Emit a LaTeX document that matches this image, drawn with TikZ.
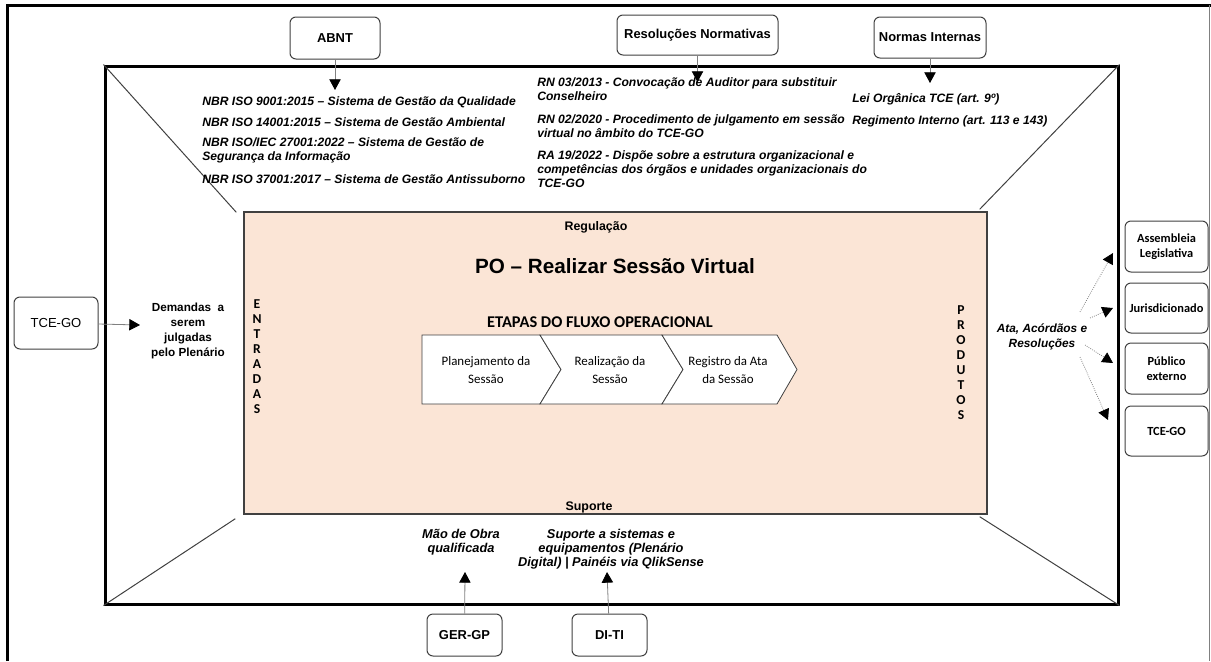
\documentclass[tikz,border=0pt]{standalone}
\usepackage{fontspec}
\setmainfont{Liberation Sans}
\newfontfamily\calibri{Carlito}
\usetikzlibrary{arrows.meta}
\definecolor{pele}{RGB}{251,229,214}
\definecolor{borda}{RGB}{64,64,64}
\begin{document}
\begin{tikzpicture}[x=0.75pt, y=-0.75pt,
    caixa/.style={draw=borda, line width=0.75pt, rounded corners=4.5pt, fill=white, inner sep=0pt, align=center},
    titulo/.style={font=\fontsize{9.7}{11}\selectfont\bfseries},
    seta/.style={draw=gray, line width=0.6pt, -{Triangle[length=8pt,width=8.5pt,color=black]}},
    saida/.style={draw=gray, line width=0.6pt, densely dotted, -{Triangle[length=8pt,width=8.5pt,color=black]}},
    diag/.style={draw=borda, line width=0.75pt},
    norma/.style={anchor=base west, inner sep=0pt, align=left, font=\fontsize{9.1}{10.5}\selectfont\bfseries\itshape},
    etapa/.style={draw=borda, line width=0.6pt, fill=white},
    letras/.style={inner sep=0pt, align=center, font=\calibri\fontsize{10.2}{11.25}\selectfont\bfseries}]
\useasboundingbox (0,0) rectangle (1211,661);
% moldura externa
\draw[line width=2.25pt] (7,661) -- (7,5) -- (1211,5);
\draw[gray, line width=0.75pt] (1209.5,5) -- (1209.5,661);
% moldura e processo
\node[draw, line width=2.25pt, inner sep=0pt, minimum width=759.75pt, minimum height=403.5pt] (moldura) at (611.5,335) {};
\node[draw=borda, line width=1.1pt, fill=pele, inner sep=0pt, minimum width=557.25pt, minimum height=226.5pt] (po) at (615.5,363) {};
\draw[diag] (moldura.north west) -- ([xshift=-5.25pt,yshift=-0.75pt]po.north west);
\draw[diag] (moldura.north east) -- ([xshift=-6pt,yshift=1.5pt]po.north east);
\draw[diag] (moldura.south west) -- ([xshift=-6pt,yshift=-3pt]po.south west);
\draw[diag] (moldura.south east) -- ([xshift=-6pt,yshift=-1.5pt]po.south east);

\node[font=\fontsize{9.3}{11}\selectfont\bfseries] (regulacao) at (596,227) {Regulação};
\node[font=\fontsize{15.5}{17}\selectfont\bfseries] (titulopo) at (615,266) {PO – Realizar Sessão Virtual};
\node[font=\calibri\fontsize{12.3}{14}\selectfont\bfseries] (etapas) at (600,322) {ETAPAS DO FLUXO OPERACIONAL};
\node[font=\fontsize{9.3}{11}\selectfont\bfseries] (suporte) at (589,507) {Suporte};

% etapas do fluxo
\draw[etapa] (422,335) -- (540,335) -- (561,369.5) -- (540,404) -- (422,404) -- cycle;
\draw[etapa] (540,335) -- (662,335) -- (683,369.5) -- (662,404) -- (540,404) -- (561,369.5) -- cycle;
\draw[etapa] (662,335) -- (777,335) -- (797,369.5) -- (777,404) -- (662,404) -- (683,369.5) -- cycle;
\node[align=center, font=\calibri\fontsize{9.7}{13.5}\selectfont] (planejamento) at (486,370) {Planejamento da\\Sessão};
\node[align=center, font=\calibri\fontsize{9.7}{13.5}\selectfont] (realizacao) at (610,370) {Realização da\\Sessão};
\node[align=center, font=\calibri\fontsize{9.7}{13.5}\selectfont] (registro) at (728,370) {Registro da Ata\\da Sessão};

\node[letras] (entradas) at (257,357) {E\\N\\T\\R\\A\\D\\A\\S};
\node[letras] (produtos) at (961,363) {P\\R\\O\\D\\U\\T\\O\\S};

% controles
\node[caixa, titulo, minimum width=67.5pt, minimum height=31.5pt] (abnt) at (335,38) {ABNT};
\node[caixa, titulo, minimum width=120.75pt, minimum height=30pt] (resolucoes) at (697.5,35) {Resoluções Normativas};
\node[caixa, titulo, minimum width=84pt, minimum height=30.75pt] (normas) at (930,37.5) {Normas Internas};
\coordinate (abntfim) at (335,90);
\coordinate (resolucoesfim) at (697.5,82);
\coordinate (normasfim) at (930,83);
\draw[seta] (abnt) -- (abntfim);
\draw[seta] (resolucoes) -- (resolucoesfim);
\draw[seta] (normas) -- (normasfim);

\node[norma] (nbr1) at (202,105) {NBR ISO 9001:2015 – Sistema de Gestão da Qualidade};
\node[norma] (nbr2) at (202,126) {NBR ISO 14001:2015 – Sistema de Gestão Ambiental};
\node[norma] (nbr3) at (202,160) {NBR ISO/IEC 27001:2022 – Sistema de Gestão de\\Segurança da Informação};
\node[norma] (nbr4) at (202,183) {NBR ISO 37001:2017 – Sistema de Gestão Antissuborno};
\node[norma] (rn1) at (537,100) {RN 03/2013 - Convocação de Auditor para substituir\\Conselheiro};
\node[norma] (rn2) at (537,137) {RN 02/2020 - Procedimento de julgamento em sessão\\virtual no âmbito do TCE-GO};
\node[norma] (ra1) at (537,187) {RA 19/2022 - Dispõe sobre a estrutura organizacional e\\competências dos órgãos e unidades organizacionais do\\TCE-GO};
\node[norma] (lei) at (852,102) {Lei Orgânica TCE (art. 9º)};
\node[norma] (regimento) at (852,124) {Regimento Interno (art. 113 e 143)};

% entradas
\node[caixa, font=\fontsize{9.8}{11}\selectfont, minimum width=63pt, minimum height=39pt] (tceorigem) at (56,323) {TCE-GO};
\coordinate (tceorigemfim) at (140,325);
\draw[seta] (tceorigem) -- (tceorigemfim);
\node[align=center, font=\fontsize{8.8}{11.25}\selectfont\bfseries] (demandas) at (188,331) {Demandas~~a\\serem\\julgadas\\pelo Plenário};

% mecanismos
\node[caixa, titulo, minimum width=56.25pt, minimum height=31.5pt] (gergp) at (464.5,635) {GER-GP};
\node[caixa, titulo, minimum width=56.25pt, minimum height=31.5pt] (diti) at (609.5,635) {DI-TI};
\coordinate (gergpfim) at (465,572);
\coordinate (ditifim) at (607,572);
\draw[seta] (gergp) -- (gergpfim);
\draw[seta] (diti) -- (ditifim);
\node[align=center, font=\fontsize{9.6}{10.5}\selectfont\bfseries\itshape] (maodeobra) at (461,542) {Mão de Obra\\qualificada};
\node[align=center, font=\fontsize{9.6}{10.5}\selectfont\bfseries\itshape] (sistemas) at (611,549) {Suporte a sistemas e\\equipamentos (Plenário\\Digital) | Painéis via QlikSense};

% saidas
\node[align=center, font=\fontsize{8.9}{11.25}\selectfont\bfseries\itshape] (ata) at (1042,337) {Ata, Acórdãos e\\Resoluções};
\node[caixa, font=\calibri\fontsize{9.3}{11}\selectfont\bfseries, minimum width=62.25pt, minimum height=38.25pt] (assembleia) at (1166.5,246.5) {Assembleia\\Legislativa};
\node[caixa, font=\calibri\fontsize{9.3}{11}\selectfont\bfseries, minimum width=62.25pt, minimum height=37.5pt] (jurisdicionado) at (1166.5,308) {Jurisdicionado};
\node[caixa, font=\calibri\fontsize{9.3}{11}\selectfont\bfseries, minimum width=62.25pt, minimum height=38.25pt] (publico) at (1166.5,368.5) {Público\\externo};
\node[caixa, font=\calibri\fontsize{9.3}{11}\selectfont\bfseries, minimum width=62.25pt, minimum height=37.5pt] (tcedestino) at (1166.5,431) {TCE-GO};
\coordinate (s1) at (1080,312);
\coordinate (s2) at (1090,318);
\coordinate (s3) at (1085,345);
\coordinate (s4) at (1080,357);
\coordinate (assembleiafim) at (1113,253);
\coordinate (jurisdicionadofim) at (1113,308);
\coordinate (publicofim) at (1113,363);
\coordinate (tcedestinofim) at (1108,420);
\draw[saida] (s1) -- (assembleiafim);
\draw[saida] (s2) -- (jurisdicionadofim);
\draw[saida] (s3) -- (publicofim);
\draw[saida] (s4) -- (tcedestinofim);
\end{tikzpicture}
\end{document}
